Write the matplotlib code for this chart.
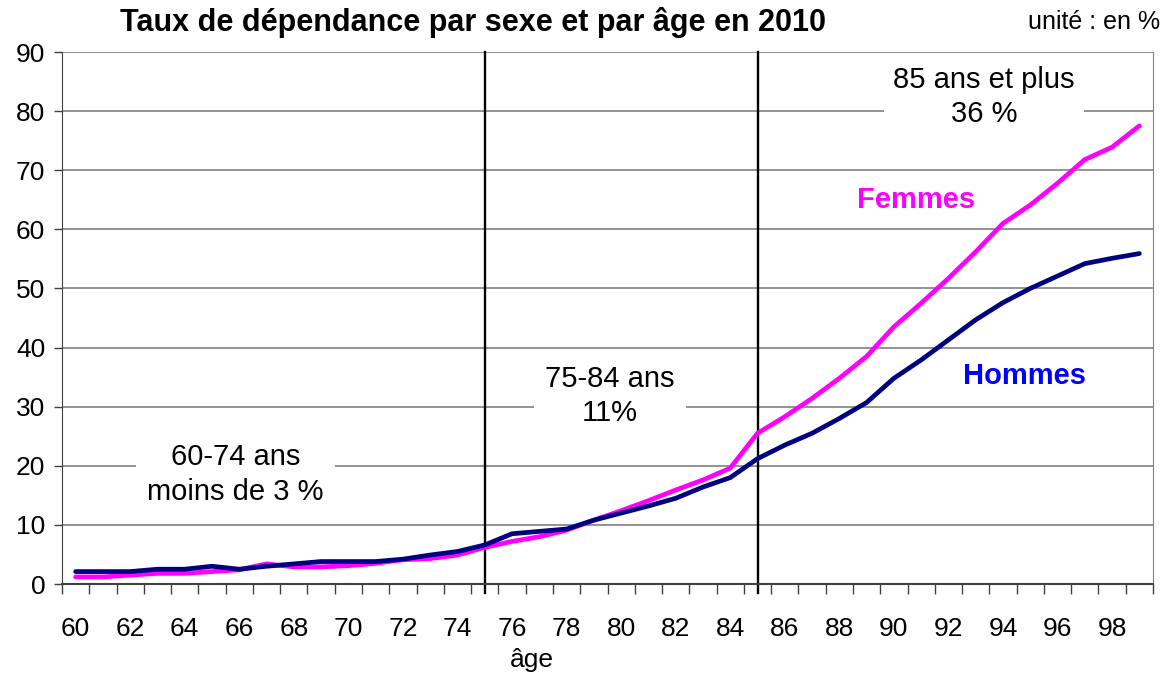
import numpy as np
import matplotlib.pyplot as plt
from matplotlib.ticker import FixedLocator, MultipleLocator

plt.rcParams['font.family'] = ['Liberation Sans', 'DejaVu Sans']

# données
ages = np.arange(60, 100)
femmes = [1.2, 1.2, 1.5, 1.8, 1.8, 2.1, 2.4, 3.4, 2.9, 2.9, 3.1, 3.5, 4.1, 4.3, 4.9, 6.2,
          7.2, 8.0, 9.1, 10.8, 12.4, 14.1, 15.9, 17.6, 19.6, 25.5,
          28.3, 31.4, 34.8, 38.5, 43.5, 47.5, 51.7, 56.2, 61.0, 64.1, 67.8, 71.8, 73.9, 77.5]
hommes = [2.1, 2.1, 2.1, 2.5, 2.5, 3.0, 2.5, 3.0, 3.4, 3.8, 3.8, 3.8, 4.2, 4.9, 5.5, 6.6,
          8.5, 8.9, 9.3, 10.8, 12.0, 13.2, 14.5, 16.4, 18.0, 21.2,
          23.5, 25.5, 28.0, 30.7, 34.8, 37.9, 41.3, 44.7, 47.6, 50.0, 52.1, 54.2, 55.1, 55.9]
bornes = [75, 85]
xlabels = [str(a) for a in range(60, 100, 2)]

fig = plt.figure(figsize=(11.64, 6.73), dpi=100)
ax = fig.add_axes([62 / 1164, 1 - 584 / 673, (1153 - 62) / 1164, (584 - 52) / 673])

ax.set_xlim(59.5, 99.5)
ax.set_ylim(0, 90)

ax.yaxis.set_major_locator(MultipleLocator(10))
ax.grid(axis='y', color='#808080', linewidth=1.2, zorder=0)

for b in bornes:
    ax.plot([b, b], [-1.5, 90], color='black', linewidth=1.7, zorder=2, clip_on=False)

ax.plot(ages, femmes, color='#FF00FF', linewidth=3.4, zorder=4, solid_capstyle='round')
ax.plot(ages, hommes, color='#000080', linewidth=3.4, zorder=5, solid_capstyle='round')

# étiquettes des tranches d'âge
def boite(p):
    return dict(facecolor='white', edgecolor='none', pad=p)

ax.text(65.85, 18.5, '60-74 ans\nmoins de 3 %', ha='center', va='center', fontsize=21,
        linespacing=1.3, bbox=boite(8), zorder=3)
ax.text(79.6, 31.8, '75-84 ans\n11%', ha='center', va='center', fontsize=21,
        linespacing=1.3, bbox=boite(8), zorder=3)
ax.text(93.3, 82.4, '85 ans et plus\n36 %', ha='center', va='center', fontsize=21,
        linespacing=1.3, bbox=boite(7), zorder=3)
ax.text(90.8, 65.0, 'Femmes', ha='center', va='center', fontsize=21, fontweight='bold',
        color='#FF00FF', bbox=boite(9), zorder=3)
ax.text(94.8, 35.2, 'Hommes', ha='center', va='center', fontsize=21, fontweight='bold',
        color='#0000FF', bbox=boite(9), zorder=3)

# axe des abscisses : graduations entre les catégories
ax.set_xticks(range(60, 100, 2))
ax.set_xticklabels(xlabels)
ax.xaxis.set_minor_locator(FixedLocator(np.arange(59.5, 100, 1)))
ax.tick_params(axis='x', which='major', length=0, pad=24, labelsize=19)
ax.tick_params(axis='x', which='minor', length=7, width=1, color='#404040', direction='out')
ax.tick_params(axis='y', length=6, width=1, color='#404040', labelsize=19, pad=6)

ax.spines['top'].set_visible(False)
ax.spines['right'].set_color('#808080')
ax.spines['bottom'].set_color('#404040')
ax.spines['bottom'].set_linewidth(1.5)
ax.spines['left'].set_color('#404040')

ax.set_xlabel('âge', fontsize=19)
ax.xaxis.set_label_coords(0.431, -0.121)

fig.text(473 / 1164, 1 - 22 / 673, 'Taux de dépendance par sexe et par âge en 2010',
         ha='center', va='center', fontsize=22, fontweight='bold')
fig.text(1160 / 1164, 1 - 22 / 673, 'unité : en %', ha='right', va='center', fontsize=18)

fig.savefig('out.png', dpi=100)
